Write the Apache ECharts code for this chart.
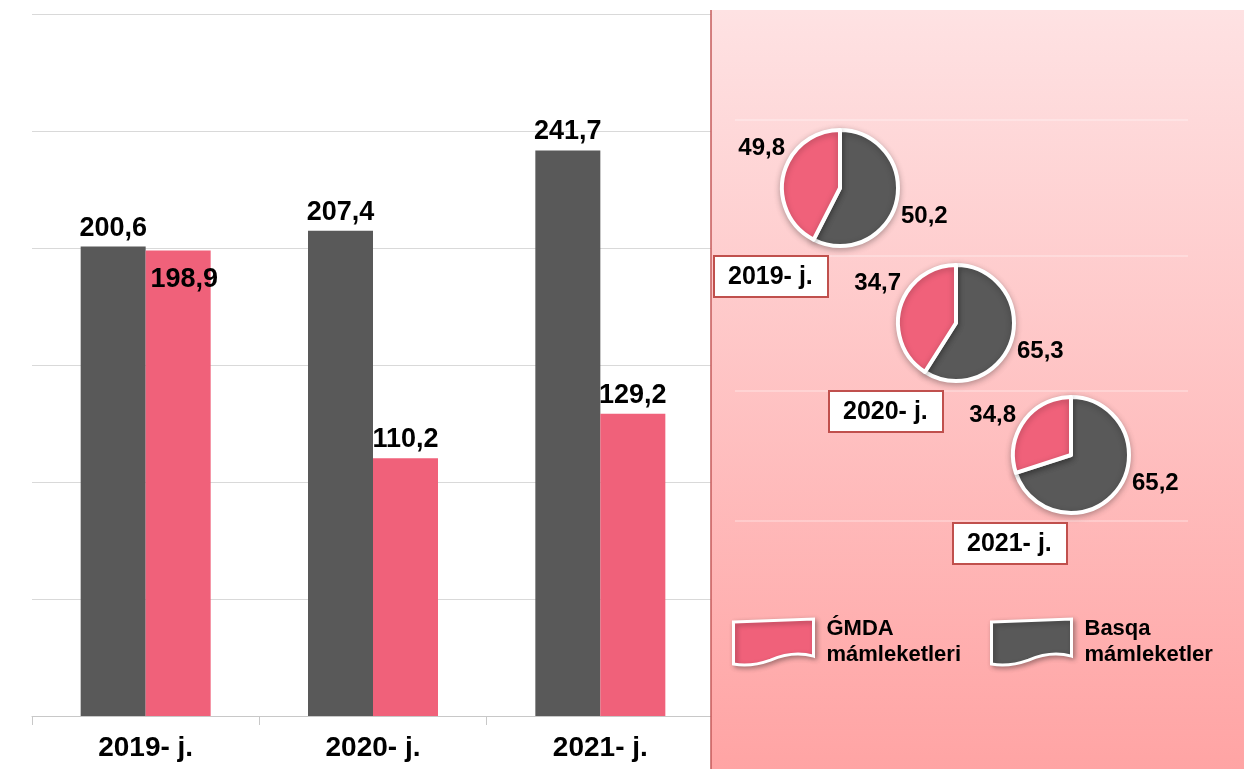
<!DOCTYPE html>
<html>
<head>
<meta charset="utf-8">
<script src="https://cdn.jsdelivr.net/npm/echarts@6/dist/echarts.min.js"></script>
<style>
  html, body { margin: 0; padding: 0; background: #fff; }
  #chart { width: 1244px; height: 769px; }
</style>
</head>
<body>
<div id="chart"></div>
<script>
// kategoriyalar
var years = ['2019- j.', '2020- j.', '2021- j.'];
var seriesNames = ['Basqa mámleketler', 'ǴMDA mámleketleri'];
// bar maǵlıwmatları
var basqaValues = [200.6, 207.4, 241.7];
var gmdaValues = [198.9, 110.2, 129.2];
// pie jazıwları (%)
var pieBasqaLabels = [50.2, 65.3, 65.2];
var pieGmdaLabels = [49.8, 34.7, 34.8];
// pie bólekleri súwretten ólshengen
var pieBasqaShares = [57.5, 59, 70];
var pieGmdaShares = [42.5, 41, 30];

var darkColor = '#595959';
var pinkColor = '#f0617a';
var fontFam = '"Liberation Sans", Arial, sans-serif';

function fmt(v) {
  return v.toFixed(1).replace('.', ',');
}

var myChart = echarts.init(document.getElementById('chart'));

var pieCenters = [[840, 188], [956, 323], [1071, 455]];
var pieRadius = 58;

var pies = years.map(function (y, i) {
  return {
    type: 'pie',
    center: pieCenters[i],
    radius: pieRadius,
    startAngle: 90,
    z: 3,
    silent: true,
    itemStyle: {
      borderColor: '#fff',
      borderWidth: 4,
      shadowBlur: 6,
      shadowColor: 'rgba(0,0,0,0.25)',
      shadowOffsetY: 2
    },
    label: {
      show: true,
      position: 'outside',
      color: '#000',
      fontFamily: fontFam,
      fontWeight: 'bold',
      fontSize: 24,
      formatter: function (p) {
        return p.dataIndex === 0 ? fmt(pieBasqaLabels[i]) : fmt(pieGmdaLabels[i]);
      }
    },
    labelLine: { show: false },
    labelLayout: function (p) {
      var c = pieCenters[i];
      if (p.dataIndex === 0) {
        return { x: c[0] + 61, y: c[1] + 28, align: 'left', verticalAlign: 'middle', moveOverlap: false };
      }
      return { x: c[0] - 55, y: c[1] - 40, align: 'right', verticalAlign: 'middle', moveOverlap: false };
    },
    data: [
      { name: seriesNames[0], value: pieBasqaShares[i], itemStyle: { color: darkColor } },
      { name: seriesNames[1], value: pieGmdaShares[i], itemStyle: { color: pinkColor } }
    ]
  };
});

// tolqınlı hújjet belgisi
var docIcon = 'path://M0,3 L82,0 L82,38 C68,34 52,36 38,42 C24,47 10,48 0,46 Z';

var legendBase = {
  orient: 'vertical',
  itemWidth: 80,
  itemHeight: 46,
  itemGap: 0,
  selectedMode: false,
  icon: docIcon,
  itemStyle: {
    borderColor: '#fff',
    borderWidth: 3,
    shadowBlur: 5,
    shadowColor: 'rgba(0,0,0,0.3)',
    shadowOffsetX: 2,
    shadowOffsetY: 2
  },
  textStyle: {
    color: '#000',
    fontFamily: fontFam,
    fontWeight: 'bold',
    fontSize: 22,
    lineHeight: 26,
    padding: [0, 0, 12, 8]
  },
  formatter: function (name) {
    return name.replace(' ', '\n');
  }
};

var yearBox = function (i, left, top) {
  return {
    text: years[i],
    left: left,
    top: top,
    backgroundColor: '#fff',
    borderColor: '#c0504d',
    borderWidth: 2,
    padding: [8, 15, 7, 14],
    textStyle: {
      color: '#000',
      fontFamily: fontFam,
      fontWeight: 'bold',
      fontSize: 25,
      lineHeight: 26
    }
  };
};

var panelLines = [120, 256, 391, 521].map(function (y) {
  return {
    type: 'line',
    z: 1,
    silent: true,
    shape: { x1: 735, y1: y, x2: 1188, y2: y },
    style: { stroke: 'rgba(255,255,255,0.55)', lineWidth: 1 }
  };
});

var options = {
  animation: false,
  backgroundColor: '#fff',
  title: [yearBox(0, 714, 256), yearBox(1, 829, 391), yearBox(2, 953, 523)],
  legend: [
    Object.assign({}, legendBase, { left: 727, top: 605, data: [seriesNames[1]] }),
    Object.assign({}, legendBase, { left: 985, top: 605, data: [seriesNames[0]] })
  ],
  graphic: [
    {
      type: 'rect',
      z: 1,
      silent: true,
      shape: { x: 711, y: 10, width: 533, height: 759 },
      style: {
        fill: new echarts.graphic.LinearGradient(0, 0, 0, 1, [
          { offset: 0, color: '#fee2e3' },
          { offset: 1, color: '#ffa4a4' }
        ])
      }
    },
    {
      type: 'line',
      z: 1,
      silent: true,
      shape: { x1: 711, y1: 10, x2: 711, y2: 769 },
      style: { stroke: '#c55a5a', lineWidth: 1.5 }
    }
  ].concat(panelLines),
  grid: {
    left: 32,
    right: 530,
    top: 14,
    bottom: 53
  },
  xAxis: {
    type: 'category',
    data: years,
    axisLine: { lineStyle: { color: '#c8c8c8', width: 1 } },
    axisTick: { show: true, length: 9, lineStyle: { color: '#c8c8c8' } },
    axisLabel: {
      color: '#000',
      fontFamily: fontFam,
      fontWeight: 'bold',
      fontSize: 28,
      margin: 18
    }
  },
  yAxis: {
    type: 'value',
    min: 0,
    max: 300,
    interval: 50,
    axisLabel: { show: false },
    axisLine: { show: false },
    axisTick: { show: false },
    splitLine: { lineStyle: { color: '#d9d9d9', width: 1 } }
  },
  series: [
    {
      name: seriesNames[0],
      type: 'bar',
      barWidth: 65,
      barGap: '0%',
      silent: true,
      itemStyle: { color: darkColor },
      label: {
        show: true,
        position: 'top',
        color: '#000',
        fontFamily: fontFam,
        fontWeight: 'bold',
        fontSize: 27,
        formatter: function (p) { return fmt(p.value); }
      },
      data: basqaValues
    },
    {
      name: seriesNames[1],
      type: 'bar',
      barWidth: 65,
      silent: true,
      itemStyle: { color: pinkColor },
      label: {
        show: true,
        position: 'top',
        color: '#000',
        fontFamily: fontFam,
        fontWeight: 'bold',
        fontSize: 27,
        formatter: function (p) { return fmt(p.value); }
      },
      data: gmdaValues.map(function (v, i) {
        if (i === 0) {
          return { value: v, label: { position: 'insideTop', offset: [6, 10] } };
        }
        return v;
      })
    }
  ].concat(pies)
};

myChart.setOption(options, true);
</script>
</body>
</html>
